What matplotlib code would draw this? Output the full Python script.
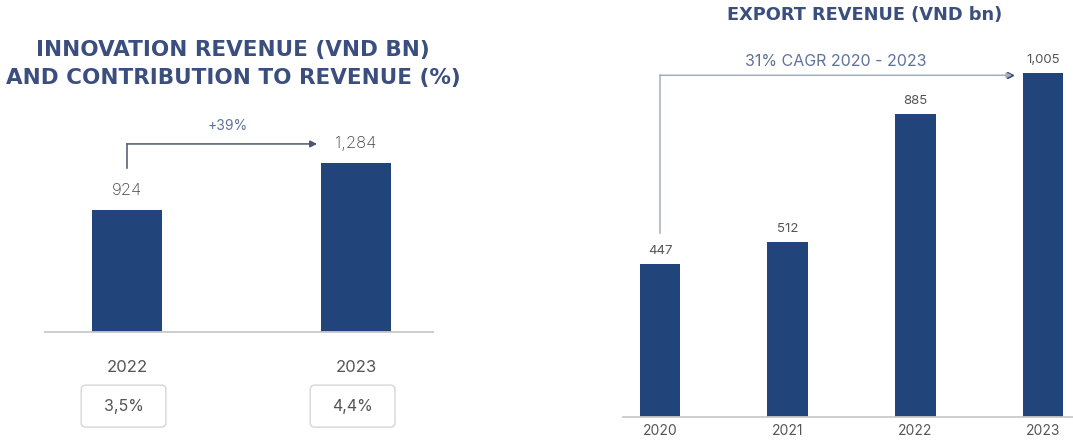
import matplotlib.pyplot as plt
from matplotlib.patches import FancyBboxPatch

# ---- data
innov_years = ["2022", "2023"]
innov_values = [924, 1284]
innov_labels = ["924", "1,284"]
innov_share = ["3,5%", "4,4%"]
innov_growth = "+39%"

export_years = ["2020", "2021", "2022", "2023"]
export_values = [447, 512, 885, 1005]
export_labels = ["447", "512", "885", "1,005"]
export_cagr = "31% CAGR 2020 - 2023"

NAVY = "#21457b"
TITLE = "#3a4f7e"
GREY_TXT = "#555555"
ACCENT = "#5f7299"

plt.rcParams["font.family"] = ["Inter", "DejaVu Sans"]

W, H = 1073, 444
fig = plt.figure(figsize=(W / 100, H / 100), dpi=100)


def px_axes(x0, y_top, x1, y_bot):
    return fig.add_axes([x0 / W, 1 - y_bot / H, (x1 - x0) / W, (y_bot - y_top) / H])


def clean(ax):
    for s in ("left", "right", "top"):
        ax.spines[s].set_visible(False)
    ax.spines["bottom"].set_color("#c9c9c9")
    ax.spines["bottom"].set_linewidth(1.3)
    ax.set_yticks([])
    ax.tick_params(axis="x", length=0)


# ---- left panel : innovation revenue
ax1 = px_axes(45, 100, 433, 332)
clean(ax1)
x1 = range(len(innov_values))
ax1.bar(x1, innov_values, width=0.306, color=NAVY)
ax1.set_xlim(-0.358, 1.336)
ax1.set_ylim(0, 1763)
ax1.set_xticks(list(x1), innov_years, fontsize=12, color=GREY_TXT)
ax1.tick_params(axis="x", pad=20)
for xi, v, lab in zip(x1, innov_values, innov_labels):
    ax1.annotate(lab, (xi, v), xytext=(0, 14), textcoords="offset points",
                 ha="center", va="center", fontsize=12, color="#444444",
                 fontweight="light")

# growth arrow 2022 -> 2023
y_arr = max(innov_values) * 1.113
ax1.plot([0, 0], [innov_values[0] * 1.35, y_arr], color="#4b5673", lw=1.1)
ax1.annotate("", xy=(0.83, y_arr), xytext=(0, y_arr),
             arrowprops=dict(arrowstyle="-|>", color="#4b5673", lw=1.1,
                             mutation_scale=10, shrinkA=0, shrinkB=0))
ax1.text(0.44, y_arr + 137, innov_growth, ha="center", va="center",
         fontsize=10, color=ACCENT)

# contribution boxes
tr = ax1.get_xaxis_transform()
for xi, s in zip(x1, innov_share):
    box = FancyBboxPatch((xi - 0.2, -0.41), 0.37, 0.181,
                         boxstyle="round,pad=0,rounding_size=0.02",
                         transform=tr, clip_on=False, facecolor="white",
                         edgecolor="#d6d6d6", lw=1)
    ax1.add_patch(box)
    ax1.text(xi - 0.015, -0.32, s, transform=tr, ha="center", va="center",
             fontsize=11.5, color=GREY_TXT)

fig.text(233 / W, 1 - 64 / H,
         "INNOVATION REVENUE (VND BN)\nAND CONTRIBUTION TO REVENUE (%)",
         ha="center", va="center", fontsize=15.5, fontweight="bold",
         color=TITLE, linespacing=1.5, family="DejaVu Sans")

# ---- right panel : export revenue
ax2 = px_axes(623, 40, 1073, 417)
clean(ax2)
x2 = range(len(export_values))
ax2.bar(x2, export_values, width=0.32, color=NAVY)
ax2.set_xlim(-0.29, 3.235)
ax2.set_ylim(0, 1101)
ax2.set_xticks(list(x2), export_years, fontsize=10, color=GREY_TXT)
ax2.tick_params(axis="x", pad=5)
for xi, v, lab in zip(x2, export_values, export_labels):
    ax2.annotate(lab, (xi, v), xytext=(0, 9), textcoords="offset points",
                 ha="center", va="center", fontsize=9.5, color=GREY_TXT)

# CAGR arrow 2020 -> 2023
y_top = export_values[-1] * 0.993
ax2.plot([0, 0], [export_values[0] * 1.2, y_top], color="#a3adbf", lw=1.1)
ax2.annotate("", xy=(2.76, y_top), xytext=(0, y_top),
             arrowprops=dict(arrowstyle="-|>", color="#a3adbf", lw=1.1,
                             mutation_scale=8, shrinkA=0, shrinkB=0))
ax2.plot([2.74], [y_top], marker=">", ms=4, color="#2b3d63")
ax2.text(1.38, y_top + 41, export_cagr, ha="center", va="center",
         fontsize=11.5, color=ACCENT)

fig.text(865 / W, 1 - 15 / H, "EXPORT REVENUE (VND bn)", ha="center",
         va="center", fontsize=12.8, fontweight="bold", color=TITLE,
         family="DejaVu Sans")

fig.savefig("out.png", dpi=100, facecolor="white")
